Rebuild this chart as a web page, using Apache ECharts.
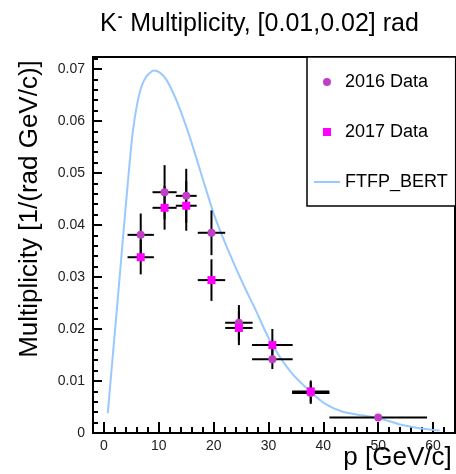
<!DOCTYPE html>
<html>
<head>
<meta charset="utf-8">
<script src="https://cdn.jsdelivr.net/npm/echarts@6/dist/echarts.min.js"></script>
<style>html,body{margin:0;padding:0;background:#fff}#c{width:456px;height:474px}</style>
</head>
<body>
<div id="c"></div>
<script>
// ---- data ----
const momentum = [6.7, 11.05, 15.0, 19.6, 24.6, 30.7, 37.7, 50.0];
const momentumErr = [2.4, 2.2, 1.9, 2.5, 2.5, 3.7, 3.4, 8.9];
const data2016 = [0.0381, 0.0463, 0.0456, 0.0385, 0.0212, 0.0142, 0.0077, 0.0030];
const err2016 = [0.0041, 0.0052, 0.0052, 0.0043, 0.0034, 0.0019, 0.0021, 0.0004];
const data2017 = [0.0338, 0.0433, 0.0437, 0.0294, 0.0202, 0.0169, 0.0080];
const err2017 = [0.0033, 0.0042, 0.0048, 0.0040, 0.0033, 0.0031, 0.0021];
const curveP = [0.7, 1.6, 2.6, 3.5, 4.4, 5.3, 6.5, 7.7, 9.1, 10.2, 11.4, 13.2, 15.0, 16.4, 18.0, 20.2, 22.5, 25.3, 27.5, 30.2, 34.0, 37.7, 40.5, 43.5, 47.0, 50.0, 53.8, 57.0, 59.9, 61.2];
const curveV = [0.0038, 0.0148, 0.0268, 0.0379, 0.0487, 0.0583, 0.0654, 0.0685, 0.0697, 0.0693, 0.0679, 0.0640, 0.0589, 0.0544, 0.0489, 0.0416, 0.0355, 0.0288, 0.0240, 0.0179, 0.0118, 0.0079, 0.0055, 0.0041, 0.0034, 0.0029, 0.0017, 0.0010, 0.0006, 0.0005];
const xMajorTicks = [0, 10, 20, 30, 40, 50, 60];
const xMinorTicks = [2, 4, 6, 8, 12, 14, 16, 18, 22, 24, 26, 28, 32, 34, 36, 38, 42, 44, 46, 48, 52, 54, 56, 58, 62];
const yMajorTicks = [0, 0.01, 0.02, 0.03, 0.04, 0.05, 0.06, 0.07];
const yMinorTicks = [0.002, 0.004, 0.006, 0.008, 0.012, 0.014, 0.016, 0.018, 0.022, 0.024, 0.026, 0.028, 0.032, 0.034, 0.036, 0.038, 0.042, 0.044, 0.046, 0.048, 0.052, 0.054, 0.056, 0.058, 0.062, 0.064, 0.066, 0.068, 0.072];
const yTickLabels = ['0', '0.01', '0.02', '0.03', '0.04', '0.05', '0.06', '0.07'];
const xTickLabels = ['0', '10', '20', '30', '40', '50', '60'];

const FONT = '"Liberation Sans", Arial, Helvetica, sans-serif';

const pts2016 = data2016.map((v, i) => [momentum[i], v]);
const pts2017 = data2017.map((v, i) => [momentum[i], v]);
const eb2016 = data2016.map((v, i) => [momentum[i], v, momentumErr[i], err2016[i]]);
const eb2017 = data2017.map((v, i) => [momentum[i], v, momentumErr[i], err2017[i]]);
const curve = curveP.map((p, i) => [p, curveV[i]]);

function renderErr(params, api) {
  const p = api.value(0), v = api.value(1), ex = api.value(2), ey = api.value(3);
  const l = api.coord([p - ex, v]), r = api.coord([p + ex, v]);
  const t = api.coord([p, v + ey]), b = api.coord([p, v - ey]);
  const st = { stroke: '#000', lineWidth: 2 };
  return {
    type: 'group',
    children: [
      { type: 'line', shape: { x1: l[0], y1: l[1], x2: r[0], y2: r[1] }, style: st },
      { type: 'line', shape: { x1: t[0], y1: t[1], x2: b[0], y2: b[1] }, style: st }
    ]
  };
}

const xBase = { type: 'value', min: -2, max: 64, position: 'bottom', offset: 0, splitLine: { show: false } };
const yBase = { type: 'value', min: 0, max: 0.0723, position: 'left', offset: 0, splitLine: { show: false } };

const option = {
  animation: false,
  backgroundColor: '#fff',
  title: {
    text: '{a|K}{s|-}{a| Multiplicity, [0.01,0.02] rad}',
    left: 100, top: 10, padding: 0,
    textStyle: {
      rich: {
        a: { fontFamily: FONT, fontSize: 25, color: '#000', fontWeight: 'normal', lineHeight: 28 },
        s: { fontFamily: FONT, fontSize: 14, color: '#000', verticalAlign: 'top', lineHeight: 28, padding: [0, 1, 12, 1] }
      }
    }
  },
  grid: {
    left: 93, right: 1, top: 57, bottom: 41,
    containLabel: false, outerBoundsMode: 'none',
    show: true, borderColor: '#000', borderWidth: 2, backgroundColor: 'transparent'
  },
  legend: {
    orient: 'vertical', left: 307, top: 57,
    padding: [15, 8, 14, 7], itemGap: 30, itemWidth: 26, itemHeight: 8,
    backgroundColor: '#fff', borderColor: '#000', borderWidth: 1.5,
    textStyle: { fontFamily: FONT, fontSize: 18, color: '#000', lineHeight: 20 },
    data: [
      { name: '2016 Data', icon: 'circle' },
      { name: '2017 Data', icon: 'path://M0,0h8v8h-8z' },
      { name: 'FTFP_BERT', icon: 'path://M0,0h26v2h-26z' }
    ]
  },
  xAxis: [
    Object.assign({}, xBase, {
      name: 'p [GeV/c]', nameLocation: 'middle', nameGap: 12, nameMoveOverlap: false,
      nameTextStyle: { fontFamily: FONT, fontSize: 26, color: '#000', padding: [0, 0, 0, 247] },
      axisLine: { show: true, onZero: false, lineStyle: { color: '#000', width: 2 } },
      axisTick: { show: true, inside: true, length: 11, customValues: xMajorTicks, lineStyle: { color: '#000', width: 2 } },
      axisLabel: { show: true, margin: 6, customValues: xMajorTicks, formatter: (v) => xTickLabels[xMajorTicks.indexOf(v)] ?? '', fontFamily: FONT, fontSize: 14, color: '#222' }
    }),
    Object.assign({}, xBase, {
      axisLine: { show: false, onZero: false },
      axisTick: { show: true, inside: true, length: 6, customValues: xMinorTicks, lineStyle: { color: '#000', width: 2 } },
      axisLabel: { show: false }
    })
  ],
  yAxis: [
    Object.assign({}, yBase, {
      name: 'Multiplicity [1/(rad GeV/c)]', nameLocation: 'middle', nameRotate: 90, nameGap: 50, nameMoveOverlap: false,
      nameTextStyle: { fontFamily: FONT, fontSize: 26, color: '#000', padding: [0, 0, 0, 72] },
      axisLine: { show: true, onZero: false, lineStyle: { color: '#000', width: 2 } },
      axisTick: { show: true, inside: true, length: 9, customValues: yMajorTicks, lineStyle: { color: '#000', width: 2 } },
      axisLabel: { show: true, margin: 8, customValues: yMajorTicks, formatter: (v) => yTickLabels[yMajorTicks.findIndex(t => Math.abs(t - v) < 1e-9)] ?? '', fontFamily: FONT, fontSize: 14, color: '#222' }
    }),
    Object.assign({}, yBase, {
      axisLine: { show: false, onZero: false },
      axisTick: { show: true, inside: true, length: 5, customValues: yMinorTicks, lineStyle: { color: '#000', width: 2 } },
      axisLabel: { show: false }
    })
  ],
  series: [
    {
      name: 'FTFP_BERT', type: 'line', xAxisIndex: 0, yAxisIndex: 0, data: curve,
      symbol: 'none', smooth: 0.25, lineStyle: { color: '#99c9ff', width: 2 }, itemStyle: { color: '#99c9ff' }, z: 1
    },
    { name: 'err2016', type: 'custom', xAxisIndex: 0, yAxisIndex: 0, renderItem: renderErr, data: eb2016, encode: { x: 0, y: 1 }, z: 2 },
    { name: 'err2017', type: 'custom', xAxisIndex: 0, yAxisIndex: 0, renderItem: renderErr, data: eb2017, encode: { x: 0, y: 1 }, z: 2 },
    { name: '2016 Data', type: 'scatter', xAxisIndex: 0, yAxisIndex: 0, data: pts2016, symbol: 'circle', symbolSize: 8, itemStyle: { color: '#c23ec8', opacity: 1 }, z: 3 },
    { name: '2017 Data', type: 'scatter', xAxisIndex: 0, yAxisIndex: 0, data: pts2017, symbol: 'rect', symbolSize: 8, itemStyle: { color: '#ff00ff', opacity: 1 }, z: 4 }
  ]
};

const chart = echarts.init(document.getElementById('c'), null, { renderer: 'canvas' });
chart.setOption(option);
</script>
</body>
</html>
